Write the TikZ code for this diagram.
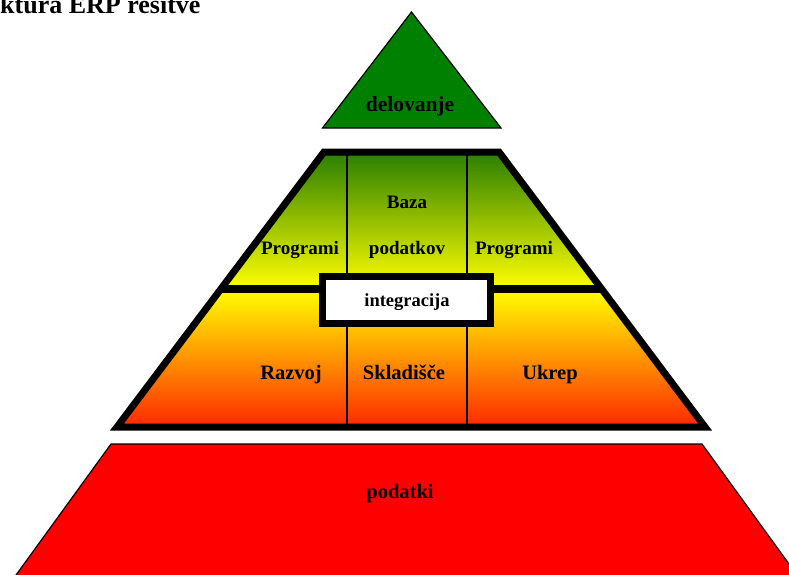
\documentclass[tikz,border=0pt]{standalone}
\usepackage{fontspec}
\setmainfont{Liberation Serif}
\usetikzlibrary{positioning,calc}
\definecolor{greenerp}{RGB}{0,128,0}
\definecolor{olivetop}{RGB}{42,126,0}
\definecolor{olivemid}{RGB}{172,200,0}
\definecolor{yellowerp}{RGB}{255,255,0}
\definecolor{ambererp}{RGB}{255,198,0}
\definecolor{rederp}{RGB}{255,40,0}
\definecolor{redbase}{RGB}{255,0,0}

\begin{document}
\begin{tikzpicture}[x=1pt,y=-1pt,
  lbl/.style={font=\bfseries\fontsize{19}{19}\selectfont, inner sep=0pt, anchor=base},
  lblbig/.style={lbl, font=\bfseries\fontsize{20.5}{20.5}\selectfont},
  thickframe/.style={draw=black, line width=7pt, line join=miter},
  thinrule/.style={draw=black, line width=1.3pt}]
\useasboundingbox (0,0) rectangle (789,575);

% title, cut at the page edge
\node[font=\bfseries\fontsize{26}{26}\selectfont, inner sep=0pt, anchor=base west] (title) at (0,14) {ktura ERP rešitve};

% top triangle
\draw[fill=greenerp, line width=1.2pt, line join=miter] (411.5,12) -- (501,128) -- (322.5,128) -- cycle;
\node[lblbig, font=\bfseries\fontsize{21.5}{21.5}\selectfont] (delovanje) at (410,112) {delovanje};

% middle trapezoid
\coordinate (tl) at (324,152);
\coordinate (tr) at (499,152);
\coordinate (bl) at (117,427);
\coordinate (br) at (705,427);
\coordinate (ml) at ($(tl)!{137/275}!(bl)$);
\coordinate (mr) at ($(tr)!{137/275}!(br)$);

\shade[top color=olivetop, middle color=olivemid, bottom color=yellowerp] (tl) -- (tr) -- (mr) -- (ml) -- cycle;
\shade[top color=yellowerp, middle color=ambererp, bottom color=rederp] (ml) -- (mr) -- (br) -- (bl) -- cycle;

\draw[thinrule] (347,152) -- (347,427);
\draw[thinrule] (467,152) -- (467,427);
\draw[draw=black, line width=8pt] (ml) -- (mr);
\draw[thickframe] (tl) -- (tr) -- (br) -- (bl) -- cycle;

\draw[thickframe, fill=white] (322.5,276) rectangle (490.5,323.5);
\node[lbl, font=\bfseries\fontsize{18.5}{18.5}\selectfont] (integracija) at (407,306) {integracija};

\node[lbl] (programl) at (300,254) {Programi};
\node[lbl] (baza) at (407,208) {Baza};
\node[lbl] (podatkov) at (407,254) {podatkov};
\node[lbl] (programr) at (514,254) {Programi};

\node[lblbig] (razvoj) at (291,379) {Razvoj};
\node[lblbig] (skladisce) at (404,379) {Skladišče};
\node[lblbig] (ukrep) at (550,379) {Ukrep};

% bottom trapezoid
\draw[fill=redbase, line width=1.2pt, line join=miter] (111,444) -- (702,444) -- (800.6,580) -- (12.4,580) -- cycle;
\node[lblbig] (podatki) at (400,498) {podatki};

\end{tikzpicture}
\end{document}
